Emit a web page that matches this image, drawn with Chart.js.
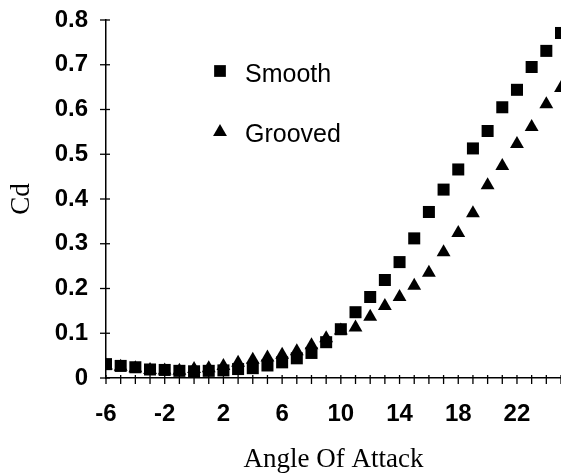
<!DOCTYPE html>
<html><head><meta charset="utf-8">
<script src="https://cdn.jsdelivr.net/npm/chart.js@4"></script>
<style>html,body{margin:0;padding:0;background:#fff}#wrap{width:561px;height:476px;position:relative}</style>
</head><body><div id="wrap"><canvas id="c"></canvas></div>
<script>
const angles = [-6,-5,-4,-3,-2,-1,0,1,2,3,4,5,6,7,8,9,10,11,12,13,14,15,16,17,18,19,20,21,22,23,24,25];
const smoothCd = [0.031,0.027,0.024,0.019,0.018,0.016,0.015,0.016,0.017,0.020,0.022,0.028,0.035,0.044,0.056,0.080,0.109,0.147,0.181,0.219,0.259,0.312,0.371,0.421,0.466,0.513,0.552,0.605,0.644,0.695,0.731,0.771];
const groovedCd = [0.028,0.025,0.022,0.018,0.017,0.016,0.020,0.022,0.027,0.034,0.041,0.046,0.052,0.060,0.073,0.089,0.106,0.113,0.137,0.161,0.181,0.206,0.235,0.281,0.324,0.368,0.431,0.474,0.523,0.561,0.612,0.648];
const seriesNames = ['Smooth','Grooved'];
const xTickLabels = [-6,-2,2,6,10,14,18,22];
const yTickLabels = ['0','0.1','0.2','0.3','0.4','0.5','0.6','0.7','0.8'];

const crossTicks = {
  id: 'crossTicks',
  beforeDatasetsDraw(chart) {
    const {ctx, scales: {x, y}} = chart;
    ctx.save();
    ctx.strokeStyle = '#000';
    ctx.lineWidth = 1.3;
    const yb = y.getPixelForValue(0);
    x.ticks.forEach(t => {
      const px = x.getPixelForValue(t.value);
      ctx.beginPath(); ctx.moveTo(px, yb - 3); ctx.lineTo(px, yb + 6); ctx.stroke();
    });
    const xl = x.getPixelForValue(-6);
    y.ticks.forEach(t => {
      const py = y.getPixelForValue(t.value);
      ctx.beginPath(); ctx.moveTo(xl - 6, py); ctx.lineTo(xl + 4, py); ctx.stroke();
    });
    ctx.restore();
  }
};

const innerLegend = {
  id: 'innerLegend',
  afterDraw(chart) {
    const ctx = chart.ctx;
    const items = [{mx: 220, my: 71, ty: 75}, {mx: 220, my: 132, ty: 135}];
    ctx.save();
    chart.data.datasets.forEach((ds, i) => {
      const it = items[i];
      ctx.fillStyle = '#000';
      ctx.strokeStyle = '#000';
      ctx.lineWidth = 0;
      const opts = {pointStyle: ds.pointStyle, radius: ds.pointStyle === 'rect' ? 8.3 : 8, rotation: 0, borderWidth: 0};
      if (Chart.helpers && Chart.helpers.drawPoint) {
        Chart.helpers.drawPoint(ctx, opts, it.mx, it.my);
      }
      ctx.font = '25px "Liberation Sans", Arial, sans-serif';
      ctx.textBaseline = 'middle';
      ctx.textAlign = 'left';
      ctx.fillText(ds.label, 245, it.ty);
    });
    ctx.restore();
  }
};

const tickFont = {family: '"Liberation Sans", Arial, sans-serif', size: 24, weight: 'bold'};
const titleFont = {family: '"Liberation Serif", "Times New Roman", serif', size: 27};

new Chart(document.getElementById('c'), {
  type: 'scatter',
  data: {
    datasets: [
      {label: seriesNames[0], data: angles.map((a, i) => ({x: a, y: smoothCd[i]})), pointStyle: 'rect', pointRadius: 8.5, backgroundColor: '#000', borderColor: '#000', pointBorderWidth: 0},
      {label: seriesNames[1], data: angles.map((a, i) => ({x: a, y: groovedCd[i]})), pointStyle: 'triangle', pointRadius: 8, backgroundColor: '#000', borderColor: '#000', pointBorderWidth: 0}
    ]
  },
  options: {
    responsive: true,
    maintainAspectRatio: false,
    animation: false,
    layout: {autoPadding: false, padding: {top: 20, right: 0, left: 0, bottom: 0}},
    plugins: {legend: {display: false}, tooltip: {enabled: false}},
    scales: {
      x: {
        type: 'linear', min: -6, max: 25,
        afterFit: s => { s.height = 98; s.paddingRight = 0; },
        grid: {display: false, drawTicks: false},
        border: {display: true, color: '#000', width: 1.5},
        ticks: {stepSize: 1, autoSkip: false, maxRotation: 0, color: '#000', font: tickFont, padding: 22,
          callback: v => xTickLabels.includes(v) ? String(v) : ''},
        title: {display: true, text: 'Angle Of Attack', color: '#000', font: titleFont, padding: {top: 0, bottom: 0}}
      },
      y: {
        min: 0, max: 0.8,
        afterFit: s => { s.width = 106; s.paddingTop = 0; },
        grid: {display: false, drawTicks: false},
        border: {display: true, color: '#000', width: 1.5},
        ticks: {stepSize: 0.1, color: '#000', font: tickFont, padding: 18,
          callback: v => yTickLabels[Math.round(v * 10)]},
        title: {display: true, text: 'Cd', color: '#000', font: titleFont, padding: {top: 6, bottom: 0}}
      }
    }
  },
  plugins: [crossTicks, innerLegend]
});
</script>
</body></html>
